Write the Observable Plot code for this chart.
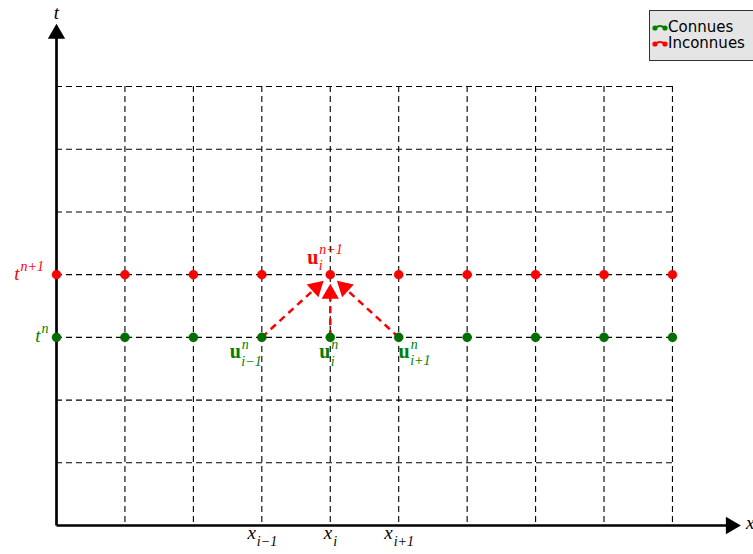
<!DOCTYPE html>
<html>
<head>
<meta charset="utf-8">
<script src="https://cdn.jsdelivr.net/npm/d3@7"></script>
<script src="https://cdn.jsdelivr.net/npm/@observablehq/plot@0.6"></script>
<style>
  html, body { margin: 0; padding: 0; background: white; }
  #wrap { position: relative; width: 753px; height: 554px; overflow: hidden; }
  #legend { position: absolute; left: 649px; top: 10px; width: 110px; height: 49px;
            background: #e5e5e5; border: 1px solid #333; box-sizing: content-box;
            font-family: "DejaVu Sans", sans-serif; font-size: 15px; color: #000; }
  .lg-row { position: absolute; left: 0; height: 15px; line-height: 15px; white-space: nowrap; }
  .lg-row svg { position: absolute; left: 2px; top: 3px; }
  .lg-row span { position: absolute; display: block; left: 18px; top: 0; height: 15px; line-height: 15px; overflow: visible; }
</style>
</head>
<body>
<div id="wrap"></div>
<script>
// ---------------- data ----------------
const gridX = [0, 1, 2, 3, 4, 5, 6, 7, 8, 9];       // spatial nodes
const gridY = [0, 1, 2, 3, 4, 5, 6, 7];             // time levels
const knownLevel = 3;                               // t^n
const unknownLevel = 4;                             // t^{n+1}
const stencilSources = [3, 4, 5];                   // x_{i-1}, x_i, x_{i+1}
const stencilTarget = 4;                            // x_i
const xTickNodes = [3, 4, 5];
const xTickBase = ["x", "x", "x"];
const xTickSubs = ["i−1", "i", "i+1"];
const timeLabelLevels = [4, 3];
const timeLabelSups = ["n+1", "n"];
const uLabelX = [3, 4, 5, 4];
const uLabelY = [3, 3, 3, 4];
const uLabelSubs = ["i−1", "i", "i+1", "i"];
const uLabelSups = ["n", "n", "n", "n+1"];
const legendLabels = ["Connues", "Inconnues"];
const axisNames = ["x", "t"];

// ---------------- layout / style ----------------
const W = 753, H = 554;
const mL = 56, mR = 12.6, mT = 23.3, mB = 29;
const xDom = [0, 10], yDom = [0, 8];
const kx = (W - mL - mR) / (xDom[1] - xDom[0]);
const ky = (H - mT - mB) / (yDom[1] - yDom[0]);
const GREEN = "green", GREEN_DOT = "#006f00", RED = "red";
const serif = "'Liberation Serif', 'DejaVu Serif', serif";
const BASE = 19, SCRIPT = 14;

// arrowhead geometry (d3.symbolTriangle)
const headSize = 130;
const headA = Math.sqrt(headSize / (3 * Math.sqrt(3)));
const headR = Math.sqrt(headSize / Math.PI);
const gap = 9;

// stencil arrows
const arrows = stencilSources.map(s => {
  const x1 = s, y1 = knownLevel, x2 = stencilTarget, y2 = unknownLevel;
  const px = (x2 - x1) * kx, py = (y2 - y1) * ky;
  const L = Math.hypot(px, py);
  const fC = (gap + 2 * headA) / L, fB = (gap + 3 * headA - 1) / L;
  return {
    x1, y1,
    xe: x2 - fB * (x2 - x1), ye: y2 - fB * (y2 - y1),
    hx: x2 - fC * (x2 - x1), hy: y2 - fC * (y2 - y1),
    rot: Math.atan2(px, py) * 180 / Math.PI
  };
});

// axes arrows
const axes = [
  {x1: 0, y1: 0, x2: xDom[1] - (3 * headA - 1) / kx, y2: 0, hx: xDom[1] - 2 * headA / kx, hy: 0, rot: 90},
  {x1: 0, y1: 0, x2: 0, y2: yDom[1] - (3 * headA - 1) / ky, hx: 0, hy: yDom[1] - 2 * headA / ky, rot: 0}
];

const nodes = gridX.map(x => ({x}));
const uLabels = uLabelX.map((x, i) => ({x, y: uLabelY[i], sub: uLabelSubs[i], sup: uLabelSups[i]}));

// per-label offsets (layout only)
const uOff = [
  {dx: -21, dy: 21, sup: 12, sub: 29},
  {dx: 0, dy: 21, sup: 12, sub: 29},
  {dx: 11, dy: 21, sup: 12, sub: 28},
  {dx: -12, dy: -11, sup: -21, sub: -5}
];
const tickOff = [-6, 2, -6];
const tOff = [{dx: -37}, {dx: -16}];

const marks = [];

// grid
marks.push(Plot.ruleX(gridX.slice(1), {x: d => d, y1: gridY[gridY.length - 1], y2: 0,
  stroke: "#000", strokeWidth: 1.1, strokeDasharray: "6,4"}));
marks.push(Plot.ruleY(gridY.slice(1), {y: d => d, x1: 0, x2: gridX[gridX.length - 1],
  stroke: "#000", strokeWidth: 1.1, strokeDasharray: "6,4"}));

// axes
marks.push(Plot.link(axes, {x1: "x1", y1: "y1", x2: "x2", y2: "y2", stroke: "#000", strokeWidth: 2.7}));
marks.push(Plot.dot(axes, {x: "hx", y: "hy", symbol: "triangle", r: headR, rotate: "rot", fill: "#000", stroke: "none"}));

// stencil arrows
marks.push(Plot.link(arrows, {x1: "x1", y1: "y1", x2: "xe", y2: "ye", stroke: RED, strokeWidth: 2.5, strokeDasharray: "7,5"}));
marks.push(Plot.dot(arrows, {x: "hx", y: "hy", symbol: "triangle", r: headR, rotate: "rot", fill: RED, stroke: "none"}));

// nodes
marks.push(Plot.dot(nodes, {x: "x", y: () => unknownLevel, r: 4.5, fill: RED, stroke: "#e00000", strokeWidth: 0.5}));
marks.push(Plot.dot(nodes, {x: "x", y: () => knownLevel, r: 4.5, fill: GREEN_DOT, stroke: "#005a00", strokeWidth: 0.5}));

// axis names
marks.push(Plot.text([axisNames[1]], {x: 0, y: yDom[1], text: d => d, dy: -5, lineAnchor: "bottom",
  textAnchor: "middle", fontFamily: serif, fontStyle: "italic", fontSize: BASE, fill: "#000"}));
marks.push(Plot.text([axisNames[0]], {x: xDom[1], y: 0, text: d => d, dx: 5, dy: 3, lineAnchor: "bottom",
  textAnchor: "start", fontFamily: serif, fontStyle: "italic", fontSize: BASE, fill: "#000"}));

// x tick labels
xTickNodes.forEach((xv, i) => {
  marks.push(Plot.text([xTickBase[i]], {x: xv, y: 0, text: d => d, dx: tickOff[i], dy: 13, lineAnchor: "bottom",
    textAnchor: "end", fontFamily: serif, fontStyle: "italic", fontSize: BASE, fill: "#000"}));
  marks.push(Plot.text([xTickSubs[i]], {x: xv, y: 0, text: d => d, dx: tickOff[i] + 1, dy: 20, lineAnchor: "bottom",
    textAnchor: "start", fontFamily: serif, fontStyle: "italic", fontSize: SCRIPT, fill: "#000"}));
});

// time labels
timeLabelLevels.forEach((lv, i) => {
  const col = lv === unknownLevel ? RED : GREEN;
  marks.push(Plot.text(["t"], {x: 0, y: lv, text: d => d, dx: tOff[i].dx, dy: 5, lineAnchor: "bottom",
    textAnchor: "end", fontFamily: serif, fontStyle: "italic", fontSize: BASE, fill: col}));
  marks.push(Plot.text([timeLabelSups[i]], {x: 0, y: lv, text: d => d, dx: tOff[i].dx + 1, dy: -4, lineAnchor: "bottom",
    textAnchor: "start", fontFamily: serif, fontStyle: "italic", fontSize: SCRIPT, fill: col}));
});

// u labels
uLabels.forEach((d, i) => {
  const col = d.y === unknownLevel ? RED : GREEN;
  const o = uOff[i];
  marks.push(Plot.text([d], {x: "x", y: "y", text: () => "u", dx: o.dx, dy: o.dy, lineAnchor: "bottom",
    textAnchor: "end", fontFamily: serif, fontWeight: "bold", fontSize: 20, fill: col}));
  marks.push(Plot.text([d], {x: "x", y: "y", text: "sup", dx: o.dx + 1, dy: o.sup, lineAnchor: "bottom",
    textAnchor: "start", fontFamily: serif, fontStyle: "italic", fontSize: SCRIPT, fill: col}));
  marks.push(Plot.text([d], {x: "x", y: "y", text: "sub", dx: o.dx + 0.5, dy: o.sub, lineAnchor: "bottom",
    textAnchor: "start", fontFamily: serif, fontStyle: "italic", fontSize: SCRIPT, fill: col}));
});

const chart = Plot.plot({
  width: W, height: H,
  marginLeft: mL, marginRight: mR, marginTop: mT, marginBottom: mB,
  x: {domain: xDom, axis: null},
  y: {domain: yDom, axis: null},
  style: {background: "white", overflow: "visible"},
  marks
});

const wrap = document.getElementById("wrap");
wrap.appendChild(chart);

// legend
const legend = document.createElement("div");
legend.id = "legend";
const legendColors = [GREEN, RED];
legendLabels.forEach((lab, i) => {
  const row = document.createElement("div");
  row.className = "lg-row";
  row.style.top = (8.5 + i * 16) + "px";
  const c = legendColors[i];
  row.innerHTML = `<svg width="16" height="9" viewBox="0 0 16 9">
      <path d="M3,5 Q8,1 13,5" fill="none" stroke="${c}" stroke-width="2"/>
      <circle cx="3" cy="5" r="2.6" fill="${c}"/><circle cx="13" cy="5" r="2.6" fill="${c}"/></svg>`;
  const sp = document.createElement("span");
  sp.textContent = lab;
  row.appendChild(sp);
  legend.appendChild(row);
});
wrap.appendChild(legend);
</script>
</body>
</html>
